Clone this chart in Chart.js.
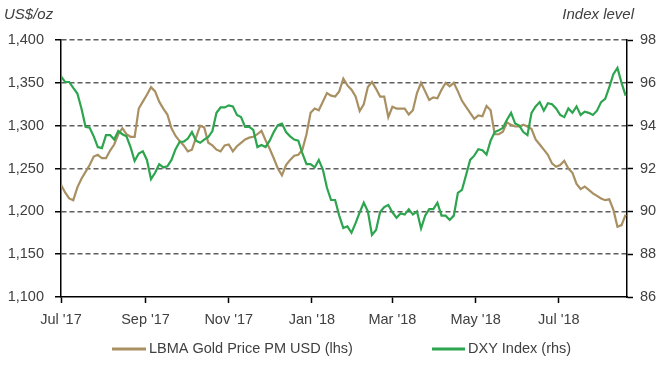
<!DOCTYPE html>
<html>
<head>
<meta charset="utf-8">
<script src="https://cdn.jsdelivr.net/npm/chart.js@4.4.1/dist/chart.umd.min.js"></script>
<style>
  body { margin: 0; background: #fff; }
  #wrap { width: 668px; height: 366px; }
</style>
</head>
<body>
<div id="wrap"><canvas id="myChart" width="668" height="366"></canvas></div>
<script>
// days counted from 1 Jul 2017
var days = [0,3,6,9,12,15,18,21,24,27,30,33,36,39,42,45,48,51,54,57,60,63,66,69,72,75,78,81,84,87,90,93,96,99,102,105,108,111,114,117,120,123,126,129,132,135,138,141,144,147,150,153,156,159,162,165,168,171,174,177,180,183,186,189,192,195,198,201,204,207,210,213,216,219,222,225,228,231,234,237,240,243,246,249,252,255,258,261,264,267,270,273,276,279,282,285,288,291,294,297,300,303,306,309,312,315,318,321,324,327,330,333,336,339,342,345,348,351,354,357,360,363,366,369,372,375,378,381,384,387,390,393,396,399,402,405,408,411,414];

var goldPrice = [1231,1222,1215,1213,1228,1238,1246,1254,1264,1266,1262,1262,1271,1278,1290,1297,1290,1287,1287,1320,1328,1336,1345,1340,1328,1320,1313,1297,1288,1282,1277,1270,1272,1286,1300,1298,1280,1277,1272,1270,1277,1278,1270,1276,1280,1284,1286,1287,1290,1294,1283,1273,1262,1250,1242,1254,1260,1265,1266,1272,1290,1315,1320,1318,1328,1338,1335,1334,1340,1355,1347,1342,1334,1317,1325,1345,1351,1343,1334,1334,1310,1322,1320,1320,1320,1313,1318,1338,1350,1340,1330,1333,1332,1342,1350,1346,1350,1340,1329,1322,1315,1308,1312,1311,1323,1318,1290,1290,1293,1304,1301,1299,1299,1301,1299,1296,1284,1278,1272,1266,1256,1252,1254,1259,1250,1245,1232,1226,1229,1225,1221,1218,1215,1213,1214,1202,1182,1184,1196];

var dxyIndex = [96.3,96.04,96.04,95.76,95.5,94.8,93.95,93.9,93.5,93.0,92.95,93.56,93.56,93.35,93.75,93.6,93.5,93.0,92.35,92.7,92.8,92.4,91.5,91.8,92.2,92.05,92.1,92.4,92.9,93.25,93.25,93.4,93.7,93.3,93.2,93.35,93.47,93.75,94.6,94.85,94.85,94.95,94.9,94.5,94.4,93.94,93.94,93.8,93.0,93.1,93.0,93.3,93.7,94.03,94.1,93.7,93.5,93.35,93.3,92.7,92.2,92.2,92.05,92.4,91.95,91.1,90.53,90.53,89.8,89.22,89.3,89.0,89.45,89.95,90.4,90.0,88.9,89.13,89.97,90.2,90.3,89.95,89.7,89.9,89.85,90.1,89.85,90.0,89.2,89.8,90.1,90.1,90.4,89.8,89.8,89.6,89.8,90.86,91.0,91.7,92.4,92.6,92.9,92.85,92.65,93.3,93.7,93.78,93.9,94.28,94.6,94.1,94.0,93.7,93.56,94.6,94.9,95.1,94.7,95.05,95.0,94.8,94.5,94.4,94.8,94.6,94.9,94.5,94.65,94.6,94.5,94.7,95.1,95.25,95.8,96.4,96.7,96.0,95.4];

var tickDays = [0,62,123,184,243,304,365];
var tickLabels = ["Jul '17","Sep '17","Nov '17","Jan '18","Mar '18","May '18","Jul '18"];
var seriesNames = ['LBMA Gold Price PM USD (lhs)', 'DXY Index (rhs)'];

var goldColor = '#a89062';
var dxyColor = '#2da44e';
var textColor = '#404040';
var fontFamily = '"Liberation Sans", Arial, sans-serif';

function toPoints(vals){
  return vals.map(function(v, i){ return {x: days[i], y: v}; });
}

// titles over axes and the legend row under the chart
var extras = {
  id: 'extras',
  afterDraw: function(chart){
    var ctx = chart.ctx;
    ctx.save();
    ctx.fillStyle = textColor;
    ctx.font = 'italic 15px ' + fontFamily;
    ctx.textBaseline = 'middle';
    ctx.textAlign = 'left';
    ctx.fillText('US$/oz', 4, 15);
    ctx.textAlign = 'right';
    ctx.fillText('Index level', 634, 15);

    ctx.font = '14.5px ' + fontFamily;
    ctx.textAlign = 'left';
    var items = [
      {x: 112, w: 34, color: goldColor, text: seriesNames[0]},
      {x: 432, w: 33, color: dxyColor, text: seriesNames[1]}
    ];
    items.forEach(function(it){
      ctx.strokeStyle = it.color;
      ctx.lineWidth = 3;
      ctx.beginPath();
      ctx.moveTo(it.x, 349);
      ctx.lineTo(it.x + it.w, 349);
      ctx.stroke();
      ctx.fillText(it.text, it.x + it.w + 3, 349);
    });
    ctx.restore();
  }
};

var ctx = document.getElementById('myChart');
var myChart = new Chart(ctx, {
  type: 'line',
  data: {
    datasets: [
      {
        label: seriesNames[0],
        data: toPoints(goldPrice),
        borderColor: goldColor,
        borderWidth: 2.2,
        pointRadius: 0,
        tension: 0,
        yAxisID: 'y',
        order: 1
      },
      {
        label: seriesNames[1],
        data: toPoints(dxyIndex),
        borderColor: dxyColor,
        borderWidth: 2.2,
        pointRadius: 0,
        tension: 0,
        yAxisID: 'y1',
        order: 0
      }
    ]
  },
  options: {
    responsive: false,
    animation: false,
    layout: { padding: { top: 40, bottom: 0, left: 0, right: 0 } },
    plugins: {
      legend: { display: false },
      tooltip: { enabled: false }
    },
    scales: {
      x: {
        type: 'linear',
        min: 0,
        max: 415,
        afterBuildTicks: function(scale){
          scale.ticks = tickDays.map(function(d){ return {value: d}; });
        },
        afterFit: function(scale){ scale.height = 69; },
        ticks: {
          autoSkip: false,
          maxRotation: 0,
          padding: 8,
          color: textColor,
          font: { family: fontFamily, size: 14.5 },
          callback: function(v){
            var i = tickDays.indexOf(v);
            return i >= 0 ? tickLabels[i] : '';
          }
        },
        grid: {
          drawOnChartArea: false,
          drawTicks: true,
          tickLength: 6,
          tickColor: '#000',
          tickWidth: 1.5
        },
        border: { display: true, color: '#000', width: 1.5 }
      },
      y: {
        position: 'left',
        min: 1100,
        max: 1400,
        afterFit: function(scale){ scale.width = 61; },
        ticks: {
          stepSize: 50,
          padding: 11,
          color: textColor,
          font: { family: fontFamily, size: 14.5 },
          callback: function(v){ return v.toLocaleString('en-US'); }
        },
        grid: {
          color: function(c){ return c.tick && c.tick.value === 1100 ? 'rgba(0,0,0,0)' : '#5e5e5e'; },
          lineWidth: 1.5,
          drawTicks: true,
          tickLength: 6,
          tickColor: '#000',
          tickWidth: 1.5
        },
        border: { display: true, color: '#000', width: 1.5, dash: [5, 3] }
      },
      y1: {
        position: 'right',
        min: 86,
        max: 98,
        afterFit: function(scale){ scale.width = 41; },
        ticks: {
          stepSize: 2,
          padding: 7,
          color: textColor,
          font: { family: fontFamily, size: 14.5 }
        },
        grid: {
          drawOnChartArea: false,
          drawTicks: true,
          tickLength: 6,
          tickColor: '#000',
          tickWidth: 1.5
        },
        border: { display: true, color: '#000', width: 1.5 }
      }
    }
  },
  plugins: [extras]
});
</script>
</body>
</html>
